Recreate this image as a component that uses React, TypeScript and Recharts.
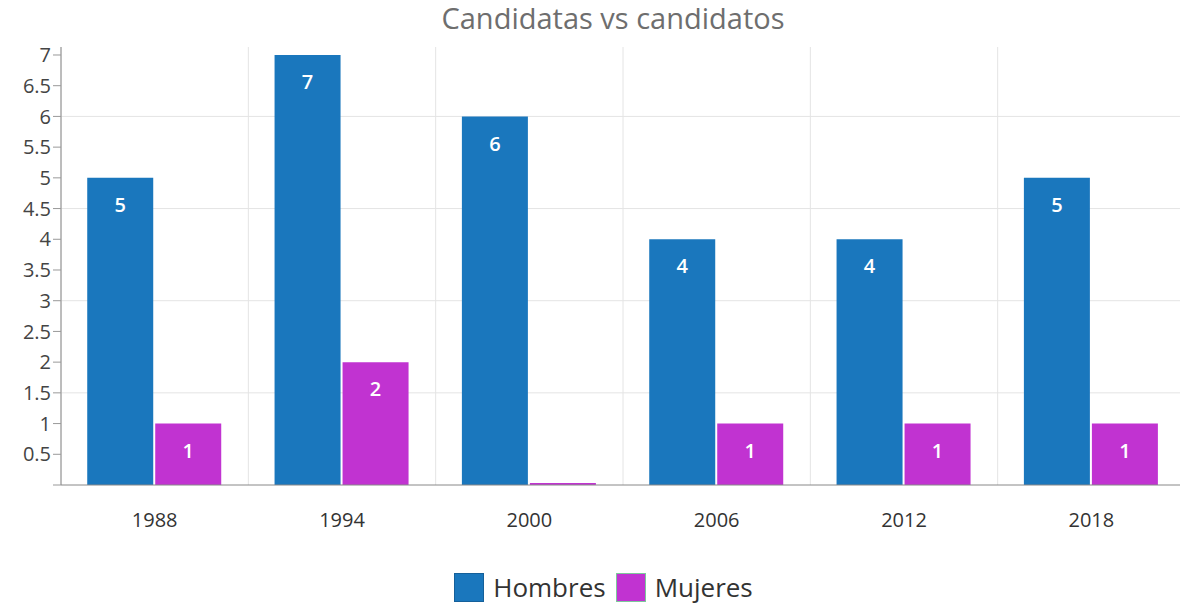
import { BarChart, Bar, XAxis, YAxis, CartesianGrid, Legend, LabelList } from 'recharts';

const years = ['1988', '1994', '2000', '2006', '2012', '2018'];
const hombres = [5, 7, 6, 4, 4, 5];
const mujeres = [1, 2, 0, 1, 1, 1];
const yTicks = [0, 0.5, 1, 1.5, 2, 2.5, 3, 3.5, 4, 4.5, 5, 5.5, 6, 6.5, 7];
const gridValues = [1.5, 3, 4.5, 6];
const bounds = [0, 1, 2, 3, 4, 5, 6];

const data = years.map((year, i) => ({ year, Hombres: hombres[i], Mujeres: mujeres[i] }));

const BLUE = '#1a77bd';
const PURPLE = '#c133d1';
const FONT = '"Open Sans", sans-serif';

const hideZero = (v: any) => (v === 0 ? '' : v);

// vertical grid lines sit on the category boundaries, not the centres
const boundaryLines = ({ offset }: any) =>
  bounds.map((b) => offset.left + (b * offset.width) / years.length);

const LegendBox = ({ payload }: any) => (
  <div style={{ height: 56, display: 'flex', justifyContent: 'center', fontFamily: FONT, paddingLeft: 24 }}>
    <div style={{ display: 'flex', alignItems: 'center', marginTop: 23, height: 30 }}>
      {(payload || []).map((p: any) => (
        <div key={p.value} style={{ display: 'flex', alignItems: 'center', marginRight: 10 }}>
          <span
            style={{
              width: 30,
              height: 29,
              background: p.color,
              border: `1px solid ${p.value === 'Mujeres' ? '#7dc89b' : '#15609a'}`,
              boxSizing: 'border-box',
              display: 'inline-block',
              marginRight: 9,
            }}
          />
          <span style={{ fontSize: 26, color: '#333', lineHeight: '30px' }}>{p.value}</span>
        </div>
      ))}
    </div>
  </div>
);

export default function App() {
  return (
    <div style={{ position: 'relative', width: 1180, height: 597 }}>
      <div
        style={{
          position: 'absolute',
          top: -5,
          left: 305,
          width: 600,
          textAlign: 'center',
          fontFamily: FONT,
          fontSize: 29,
          lineHeight: '30px',
          color: '#6e6e6e',
        }}
      >
        Candidatas vs candidatos
      </div>
      <BarChart
        width={1180}
        height={597}
        data={data}
        margin={{ top: 39, right: 3, left: 0, bottom: 0 }}
        barCategoryGap="14%"
        barGap={2}
        style={{ fontFamily: FONT }}
      >
        <CartesianGrid
          stroke="#e4e4e4"
          verticalCoordinatesGenerator={boundaryLines}
          horizontalValues={gridValues}
        />
        <XAxis
          xAxisId="bnd"
          type="number"
          domain={[0, 6]}
          ticks={bounds}
          tick={false}
          tickSize={8}
          height={8}
          tickLine={{ stroke: '#cfcfcf' }}
          axisLine={{ stroke: '#888' }}
        />
        <XAxis
          xAxisId="cat"
          dataKey="year"
          height={56}
          tickSize={0}
          tickMargin={20}
          axisLine={false}
          tick={{ fontSize: 20, fill: '#333' }}
        />
        <YAxis
          width={53}
          domain={[0, 7.13]}
          ticks={yTicks}
          interval={0}
          tickSize={8}
          tickFormatter={hideZero}
          tick={{ fontSize: 20, fill: '#444' }}
          tickLine={{ stroke: '#999' }}
          axisLine={{ stroke: '#888' }}
        />
        <Legend verticalAlign="bottom" content={<LegendBox />} />
        <Bar dataKey="Hombres" xAxisId="cat" fill={BLUE} isAnimationActive={false}>
          <LabelList
            dataKey="Hombres"
            position="insideTop"
            offset={20}
            formatter={hideZero}
            style={{ fill: '#fff', fontSize: 20, fontWeight: 600 }}
          />
        </Bar>
        <Bar dataKey="Mujeres" xAxisId="cat" fill={PURPLE} minPointSize={2} isAnimationActive={false}>
          <LabelList
            dataKey="Mujeres"
            position="insideTop"
            offset={20}
            formatter={hideZero}
            style={{ fill: '#fff', fontSize: 20, fontWeight: 600 }}
          />
        </Bar>
      </BarChart>
    </div>
  );
}
